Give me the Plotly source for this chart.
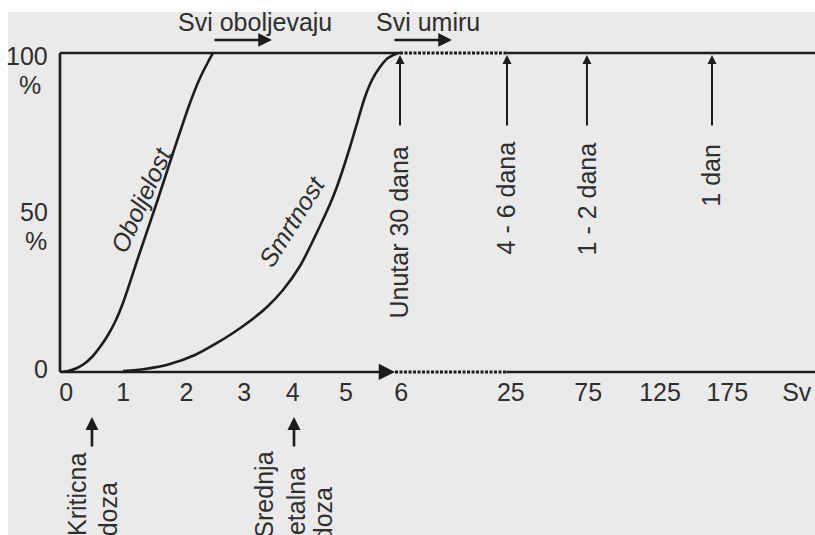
import plotly.graph_objects as go

# ---------------- data ----------------
# x axis is in "diagram units": 0..6 = dose in Sv (linear part), beyond 6 the scale is broken
OBOL_X = [0.0, 0.142, 0.283, 0.425, 0.566, 0.708, 0.850, 0.991, 1.115, 1.416, 1.717, 2.0, 2.301, 2.478, 2.602, 2.708]
OBOL_Y = [0.0, 0.31, 1.10, 2.51, 4.70, 7.84, 11.60, 16.30, 21.63, 37.62, 53.29, 68.65, 84.33, 92.16, 96.55, 100.0]

SMRT_X = [1.115, 1.504, 1.947, 2.389, 2.779, 3.062, 3.363, 3.664, 3.947, 4.248, 4.602, 4.832,
          4.956, 5.133, 5.274, 5.398, 5.522, 5.664, 5.805, 5.982]
SMRT_Y = [0.31, 0.94, 2.51, 5.33, 9.09, 12.23, 15.99, 20.38, 25.71, 33.23, 45.77, 54.86,
          60.82, 70.53, 78.98, 86.21, 91.54, 95.61, 98.43, 100.0]

TICK_POS = [0.11, 1.12, 2.24, 3.26, 4.12, 5.06, 6.04, 7.98, 9.35, 10.62, 11.81, 13.04]
TICK_LABELS = ["0", "1", "2", "3", "4", "5", "6", "25", "75", "125", "175", "Sv"]

Y_LABELS = ["100", "50", "0"]
Y_LABEL_POS = [99.2, 50.0, 0.8]

# survival-time markers (arrows pointing at the 100 % line)
TIME_POS = [6.018, 7.912, 9.327, 11.54]
TIME_LABELS = ["Unutar 30 dana", "4 - 6 dana", "1 - 2 dana", "1 dan"]
TIME_LABEL_X = [6.0, 7.894, 9.327, 11.52]
TIME_LABEL_Y = [43.7, 54.4, 54.4, 61.8]

BREAK_START = 6.018   # end of linear dose section on the 100 % line
BREAK_END = 7.90      # start of the right-hand section
X_END = 13.6
AXIS_ARROW_TIP = 5.93

XR = [-0.920, 13.363]
YR = [-51.1, 112.85]

INK = "#1c1c1c"
TXT = "#2e2e2e"
FONT = "Liberation Sans, Arial, Helvetica, sans-serif"
FS = 25

fig = go.Figure()

def line(x, y, dash=None, width=2.6):
    fig.add_trace(go.Scatter(x=x, y=y, mode="lines", hoverinfo="skip", showlegend=False,
                             line=dict(color=INK, width=width, dash=dash)))

# curves
fig.add_trace(go.Scatter(x=OBOL_X, y=OBOL_Y, mode="lines",
                         line=dict(color=INK, width=2.6, shape="spline", smoothing=0.8),
                         showlegend=False, hoverinfo="skip", name="Oboljelost"))
fig.add_trace(go.Scatter(x=SMRT_X, y=SMRT_Y, mode="lines",
                         line=dict(color=INK, width=2.6, shape="spline", smoothing=0.8),
                         showlegend=False, hoverinfo="skip", name="Smrtnost"))

# frame lines
line([0, 0], [0, 100])
line([0, BREAK_START], [100, 100])
line([BREAK_START, BREAK_END], [100, 100], dash="3px,1.5px", width=2.8)
line([BREAK_END, X_END], [100, 100])
line([AXIS_ARROW_TIP, BREAK_END], [0, 0], dash="3px,1.5px", width=2.8)
line([BREAK_END, X_END], [0, 0])

# tick labels
fig.add_trace(go.Scatter(x=TICK_POS, y=[-7.05] * len(TICK_POS), mode="text", text=TICK_LABELS,
                         textfont=dict(family=FONT, size=FS, color=TXT), textposition="middle center",
                         showlegend=False, hoverinfo="skip", cliponaxis=False))

ann = []

def arrow(x, y, ax, ay, w=2.5, size=1.0):
    ann.append(dict(x=x, y=y, ax=ax, ay=ay, xref="x", yref="y", axref="x", ayref="y", text="",
                    showarrow=True, arrowhead=2, arrowsize=size, arrowwidth=w, arrowcolor=INK,
                    standoff=0, startstandoff=0))

def text(x, y, s, angle=0, xanchor="center", size=FS):
    ann.append(dict(x=x, y=y, xref="x", yref="y", text=s, showarrow=False, textangle=angle,
                    xanchor=xanchor, yanchor="middle", font=dict(family=FONT, size=size, color=TXT)))

# x axis (linear part) with arrow
arrow(AXIS_ARROW_TIP, 0, 0, 0, w=2.6, size=1.25)

# top arrows
arrow(3.752, 104.1, 2.708, 104.1, w=2.5, size=1.1)
arrow(6.938, 104.1, 5.894, 104.1, w=2.5, size=1.1)
text(3.45, 109.6, "Svi oboljevaju")
text(6.513, 109.6, "Svi umiru")

# y labels
for lab, yp in zip(Y_LABELS, Y_LABEL_POS):
    text(-0.177, yp, lab, xanchor="right")
text(-0.531, 90.1, "%")
text(-0.416, 41.2, "%")

# curve labels
text(1.434, 53.9, "<i>Oboljelost</i>", angle=-65.6)
text(4.106, 47.3, "<i>Smrtnost</i>", angle=-58)

# survival time arrows and labels
for xp, lab, lx, ly in zip(TIME_POS, TIME_LABELS, TIME_LABEL_X, TIME_LABEL_Y):
    arrow(xp, 99.4, xp, 76.8, w=2.0, size=0.9)
    text(lx, ly, lab, angle=-90)

# lower doses
arrow(0.566, -14.1, 0.566, -23.8, w=2.6, size=1.0)
arrow(4.142, -14.1, 4.142, -23.8, w=2.6, size=1.0)
text(0.31, -38.4, "Kriticna", angle=-90)
text(0.84, -42.9, "doza", angle=-90)
text(3.62, -38.6, "Srednja", angle=-90)
text(4.17, -41.4, "letalna", angle=-90)
text(4.66, -44.5, "doza", angle=-90)

fig.update_layout(
    width=815, height=535,
    margin=dict(l=8, r=0, t=12, b=0),
    paper_bgcolor="white", plot_bgcolor="#eaeaea",
    xaxis=dict(range=XR, visible=False, fixedrange=True),
    yaxis=dict(range=YR, visible=False, fixedrange=True),
    annotations=ann,
    showlegend=False,
)

fig.write_html("out.html", config={"displayModeBar": False},
               post_script="document.body.style.margin='0px';document.body.style.overflow='hidden';")
